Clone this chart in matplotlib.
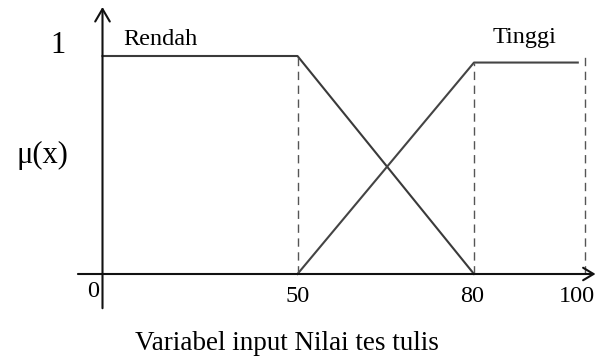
#!/usr/bin/env python3

import numpy as np
import matplotlib
matplotlib.use("Agg")
import matplotlib.pyplot as plt

# membership functions (x value, mu)
rendah_x = [0, 50, 80]
rendah_y = [1, 1, 0]
tinggi_x = [50, 80, 98.7]
tinggi_y = [0, 0.97, 0.97]

# dashed guide lines (x, top)
guide_x = [50, 80, 100]
guide_top = [1, 0.97, 1.015]

tick_vals = [0, 50, 80, 100]
tick_labels = ["0", "50", "80", "100"]

# the drawing is not to scale: piecewise mapping value -> pixel
brk_x = np.array([0.0, 50.0, 80.0, 100.0])
brk_px = np.array([102.5, 297.5, 474.0, 585.0])


def piecewise(v, xs, ys):
    v = np.asarray(v, dtype=float)
    out = np.interp(v, xs, ys)
    s0 = (ys[1] - ys[0]) / (xs[1] - xs[0])
    s1 = (ys[-1] - ys[-2]) / (xs[-1] - xs[-2])
    out = np.where(v < xs[0], ys[0] + (v - xs[0]) * s0, out)
    out = np.where(v > xs[-1], ys[-1] + (v - xs[-1]) * s1, out)
    return out


def fwd(v):
    return piecewise(v, brk_x, brk_px)


def inv(p):
    return piecewise(p, brk_px, brk_x)


plt.rcParams['font.family'] = ['Liberation Serif', 'DejaVu Serif']

fig = plt.figure(figsize=(5.96, 3.6), dpi=100)
ax = fig.add_axes([0, 0, 1, 1])
ax.set_xscale('function', functions=(fwd, inv))
ax.set_xlim(float(inv(0)), float(inv(596)))
y0_px, y1_px = 274.0, 56.0
ax.set_ylim(-(360 - y0_px) / (y0_px - y1_px), y0_px / (y0_px - y1_px))
ax.axis('off')

line_col = '#3a3a3a'
# axes with arrows
ax.annotate('', xy=(101.9, 0), xytext=(-6.3, 0),
            arrowprops=dict(arrowstyle='->,head_length=0.5,head_width=0.3',
                            lw=1.5, color='#111111', mutation_scale=15,
                            shrinkA=0, shrinkB=0))
ax.annotate('', xy=(0, 1.225), xytext=(0, -0.157),
            arrowprops=dict(arrowstyle='->,head_length=0.6,head_width=0.35',
                            lw=1.5, color='#111111', mutation_scale=15,
                            shrinkA=0, shrinkB=0))

ax.plot(rendah_x, rendah_y, color=line_col, lw=1.5)
ax.plot(tinggi_x, tinggi_y, color='#444444', lw=1.5)

for gx, gt in zip(guide_x, guide_top):
    ax.plot([gx, gx], [0, gt], color='#555555', lw=1.0, dashes=(6, 4))

for v, lab in zip(tick_vals, tick_labels):
    xx, yy, ha = v, -0.105, 'center'
    if v == 0:
        xx, yy = -2.3, -0.08
    elif v == 80:
        xx = 79.6
    elif v == 100:
        xx, ha = 101.8, 'right'
    ax.text(xx, yy, lab, ha=ha, va='center', fontsize=17.5)

ax.text(-11.3, 1.05, "1", ha='center', va='center', fontsize=22)
ax.text(-15.3, 0.545, "μ(x)", ha='center', va='center', fontsize=22)
ax.text(5.3, 1.075, "Rendah", ha='left', va='center', fontsize=17.5)
ax.text(83.4, 1.085, "Tinggi", ha='left', va='center', fontsize=17.5)
ax.text(47.4, -0.32, "Variabel input Nilai tes tulis", ha='center',
        va='center', fontsize=19.5)

plt.savefig("out.png", dpi=100)
